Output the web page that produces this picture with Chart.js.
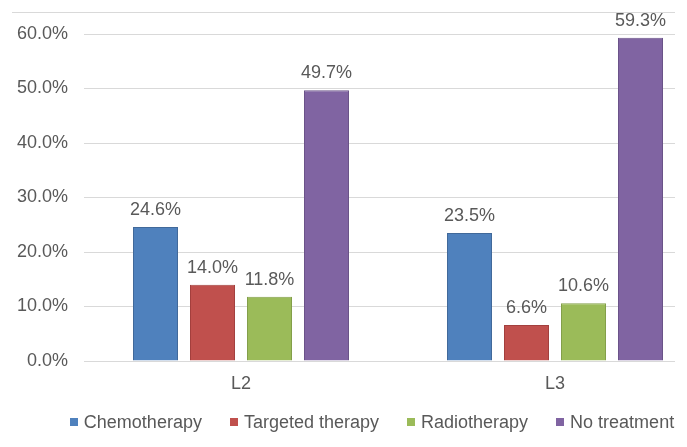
<!DOCTYPE html>
<html>
<head>
<meta charset="utf-8">
<script src="https://cdn.jsdelivr.net/npm/chart.js@4/dist/chart.umd.min.js"></script>
<style>
  body { margin: 0; background: #fff; }
  #wrap { position: relative; width: 687px; height: 447px; overflow: hidden; font-family: "Liberation Sans", Arial, sans-serif; }
  #clip { position: absolute; left: 0; top: 0; width: 675px; height: 447px; overflow: hidden; }
  #topline { position: absolute; left: 12px; top: 12px; width: 663px; height: 1px; background: #d9d9d9; }
  #legend { position: absolute; left: 0; width: 744px; top: 411px; height: 22px; display: flex; justify-content: center; align-items: center; font-size: 18px; color: #595959; white-space: nowrap; }
  #legend .item { display: flex; align-items: center; margin: 0 14px; }
  #legend .box { width: 8px; height: 8px; margin-right: 6px; }
</style>
</head>
<body>
<div id="wrap">
  <div id="clip"><canvas id="chart" width="744" height="447"></canvas></div>
  <div id="topline"></div>
  <div id="legend"></div>
</div>
<script>
const categories = ['L2', 'L3'];
const seriesNames = ['Chemotherapy', 'Targeted therapy', 'Radiotherapy', 'No treatment'];
const chemotherapy = [24.6, 23.5];
const targetedTherapy = [14.0, 6.6];
const radiotherapy = [11.8, 10.6];
const noTreatment = [49.7, 59.3];
const yTicks = [0, 10, 20, 30, 40, 50, 60];

const fills = ['#4F81BD', '#C0504D', '#9BBB59', '#8064A2'];
const edges = ['#41699A', '#A3403E', '#839F4A', '#6A5388'];
const textColor = '#595959';
const fontFamily = '"Liberation Sans", Arial, sans-serif';

// value labels above each bar
const barLabels = {
    id: 'barLabels',
    afterDatasetsDraw(chart) {
        const ctx = chart.ctx;
        ctx.save();
        ctx.font = '18px ' + fontFamily;
        ctx.fillStyle = textColor;
        ctx.textAlign = 'center';
        ctx.textBaseline = 'alphabetic';
        chart.data.datasets.forEach((ds, i) => {
            chart.getDatasetMeta(i).data.forEach((bar, j) => {
                ctx.fillText(ds.data[j].toFixed(1) + '%', bar.x, bar.y - 12);
            });
        });
        ctx.restore();
    }
};

const allSeries = [chemotherapy, targetedTherapy, radiotherapy, noTreatment];

const chart = new Chart(document.getElementById('chart'), {
    type: 'bar',
    data: {
        labels: categories,
        datasets: allSeries.map((vals, i) => ({
            label: seriesNames[i],
            data: vals,
            backgroundColor: fills[i],
            borderColor: edges[i],
            borderWidth: 1,
            categoryPercentage: 0.726,
            barPercentage: 0.79
        }))
    },
    options: {
        responsive: false,
        animation: false,
        layout: { padding: { left: 0, right: 32, top: 34, bottom: 36 } },
        plugins: {
            legend: { display: false },
            tooltip: { enabled: false }
        },
        scales: {
            x: {
                afterFit(scale) { scale.height = 50; },
                grid: { display: false, drawTicks: false },
                border: { color: '#d9d9d9' },
                ticks: { color: textColor, padding: 12, font: { family: fontFamily, size: 18 } }
            },
            y: {
                min: 0,
                max: 60,
                afterFit(scale) { scale.width = 84; },
                afterBuildTicks(scale) { scale.ticks = yTicks.map(v => ({ value: v })); },
                grid: { color: '#d9d9d9', drawTicks: false },
                border: { display: false },
                ticks: {
                    color: textColor,
                    padding: 16,
                    font: { family: fontFamily, size: 18 },
                    callback: v => v.toFixed(1) + '%'
                }
            }
        }
    },
    plugins: [barLabels]
});

// legend built from the same datasets
const legendEl = document.getElementById('legend');
chart.data.datasets.forEach(ds => {
    const item = document.createElement('span');
    item.className = 'item';
    const box = document.createElement('span');
    box.className = 'box';
    box.style.background = ds.backgroundColor;
    item.appendChild(box);
    item.appendChild(document.createTextNode(ds.label));
    legendEl.appendChild(item);
});
</script>
</body>
</html>
